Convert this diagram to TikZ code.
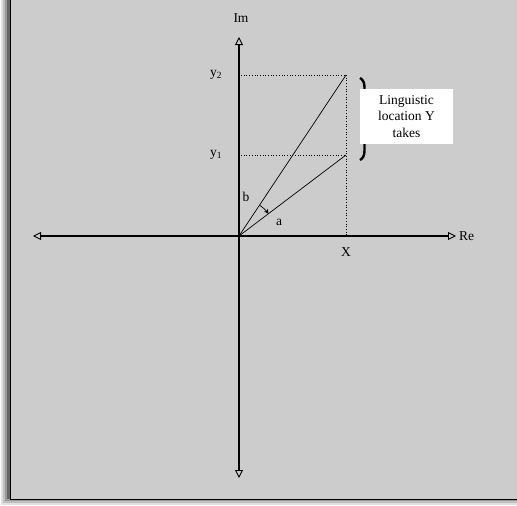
\documentclass[tikz,border=0pt]{standalone}
\usepackage{fontspec}
\setmainfont{Liberation Serif}
\usetikzlibrary{arrows.meta,decorations.pathreplacing}

\begin{document}
\begin{tikzpicture}[
  x=1pt,y=-1pt,
  axis/.style={black,line width=1.8pt,-{Triangle[open,length=8pt,width=8pt,line width=0.9pt]}},
  ray/.style={black,line width=0.7pt},
  guide/.style={black,line width=0.7pt,dotted},
  lbl/.style={font=\fontsize{13.5}{15}\selectfont,inner sep=1pt},
  every node/.style={font=\fontsize{13.5}{15}\selectfont}
]
  \useasboundingbox (0,0) rectangle (517,506);
  % shadow and frame
  \fill[white] (0,0) rectangle (517,506);
  \foreach \s/\c in {9/12,7/25,5/40,3/60}
    \fill[black!\c] (10-\s,0) rectangle (517,506-10+\s);
  \fill[black!20] (10,0) rectangle (517,500);
  \draw[black,line width=1.5pt] (10.5,0) -- (10.5,499.5) -- (517,499.5);

  \coordinate (o) at (239,236);
  \coordinate (left) at (33,236);
  \coordinate (right) at (456,236);
  \coordinate (top) at (239,37);
  \coordinate (bottom) at (239,478);
  \coordinate (p2) at (346,75);
  \coordinate (p1) at (346,155);
  \coordinate (xa) at (346,236);
  \coordinate (q2) at (241,75);
  \coordinate (q1) at (241,155);

  \draw[axis] (o) -- (right);
  \draw[axis] (o) -- (left);
  \draw[axis] (o) -- (top);
  \draw[axis] (o) -- (bottom);

  \draw[guide] (q2) -- (p2);
  \draw[guide] (q1) -- (p1);
  \draw[guide] (p2) -- (xa);

  \draw[ray] (o) -- (p2);
  \draw[ray] (o) -- (p1);
  \draw[ray,-{Stealth[length=4.5pt,width=4.5pt]}] ([shift={(-56.4:37)}]o) arc[start angle=-56.4,end angle=-37.1,radius=37];

  \node[lbl] (im) at (241,18) {Im};
  \node[lbl,anchor=west] (re) at (458,236) {Re};
  \node[lbl] (ytwo) at (216,75) {y\textsubscript{2}};
  \node[lbl] (yone) at (216,155) {y\textsubscript{1}};
  \node[lbl] (b) at (246,197) {b};
  \node[lbl] (a) at (279,222) {a};
  \node[lbl] (x) at (346,252) {X};

  \draw[black,line width=2.4pt,decorate,decoration={brace,amplitude=9pt}]
    (360,78) -- (360,160);
  \node[fill=white,minimum width=93pt,minimum height=55pt,align=center,
        font=\fontsize{13.5}{16.5}\selectfont] (note) at (406.5,116.5)
    {Linguistic\\location Y\\ takes};
\end{tikzpicture}
\end{document}
